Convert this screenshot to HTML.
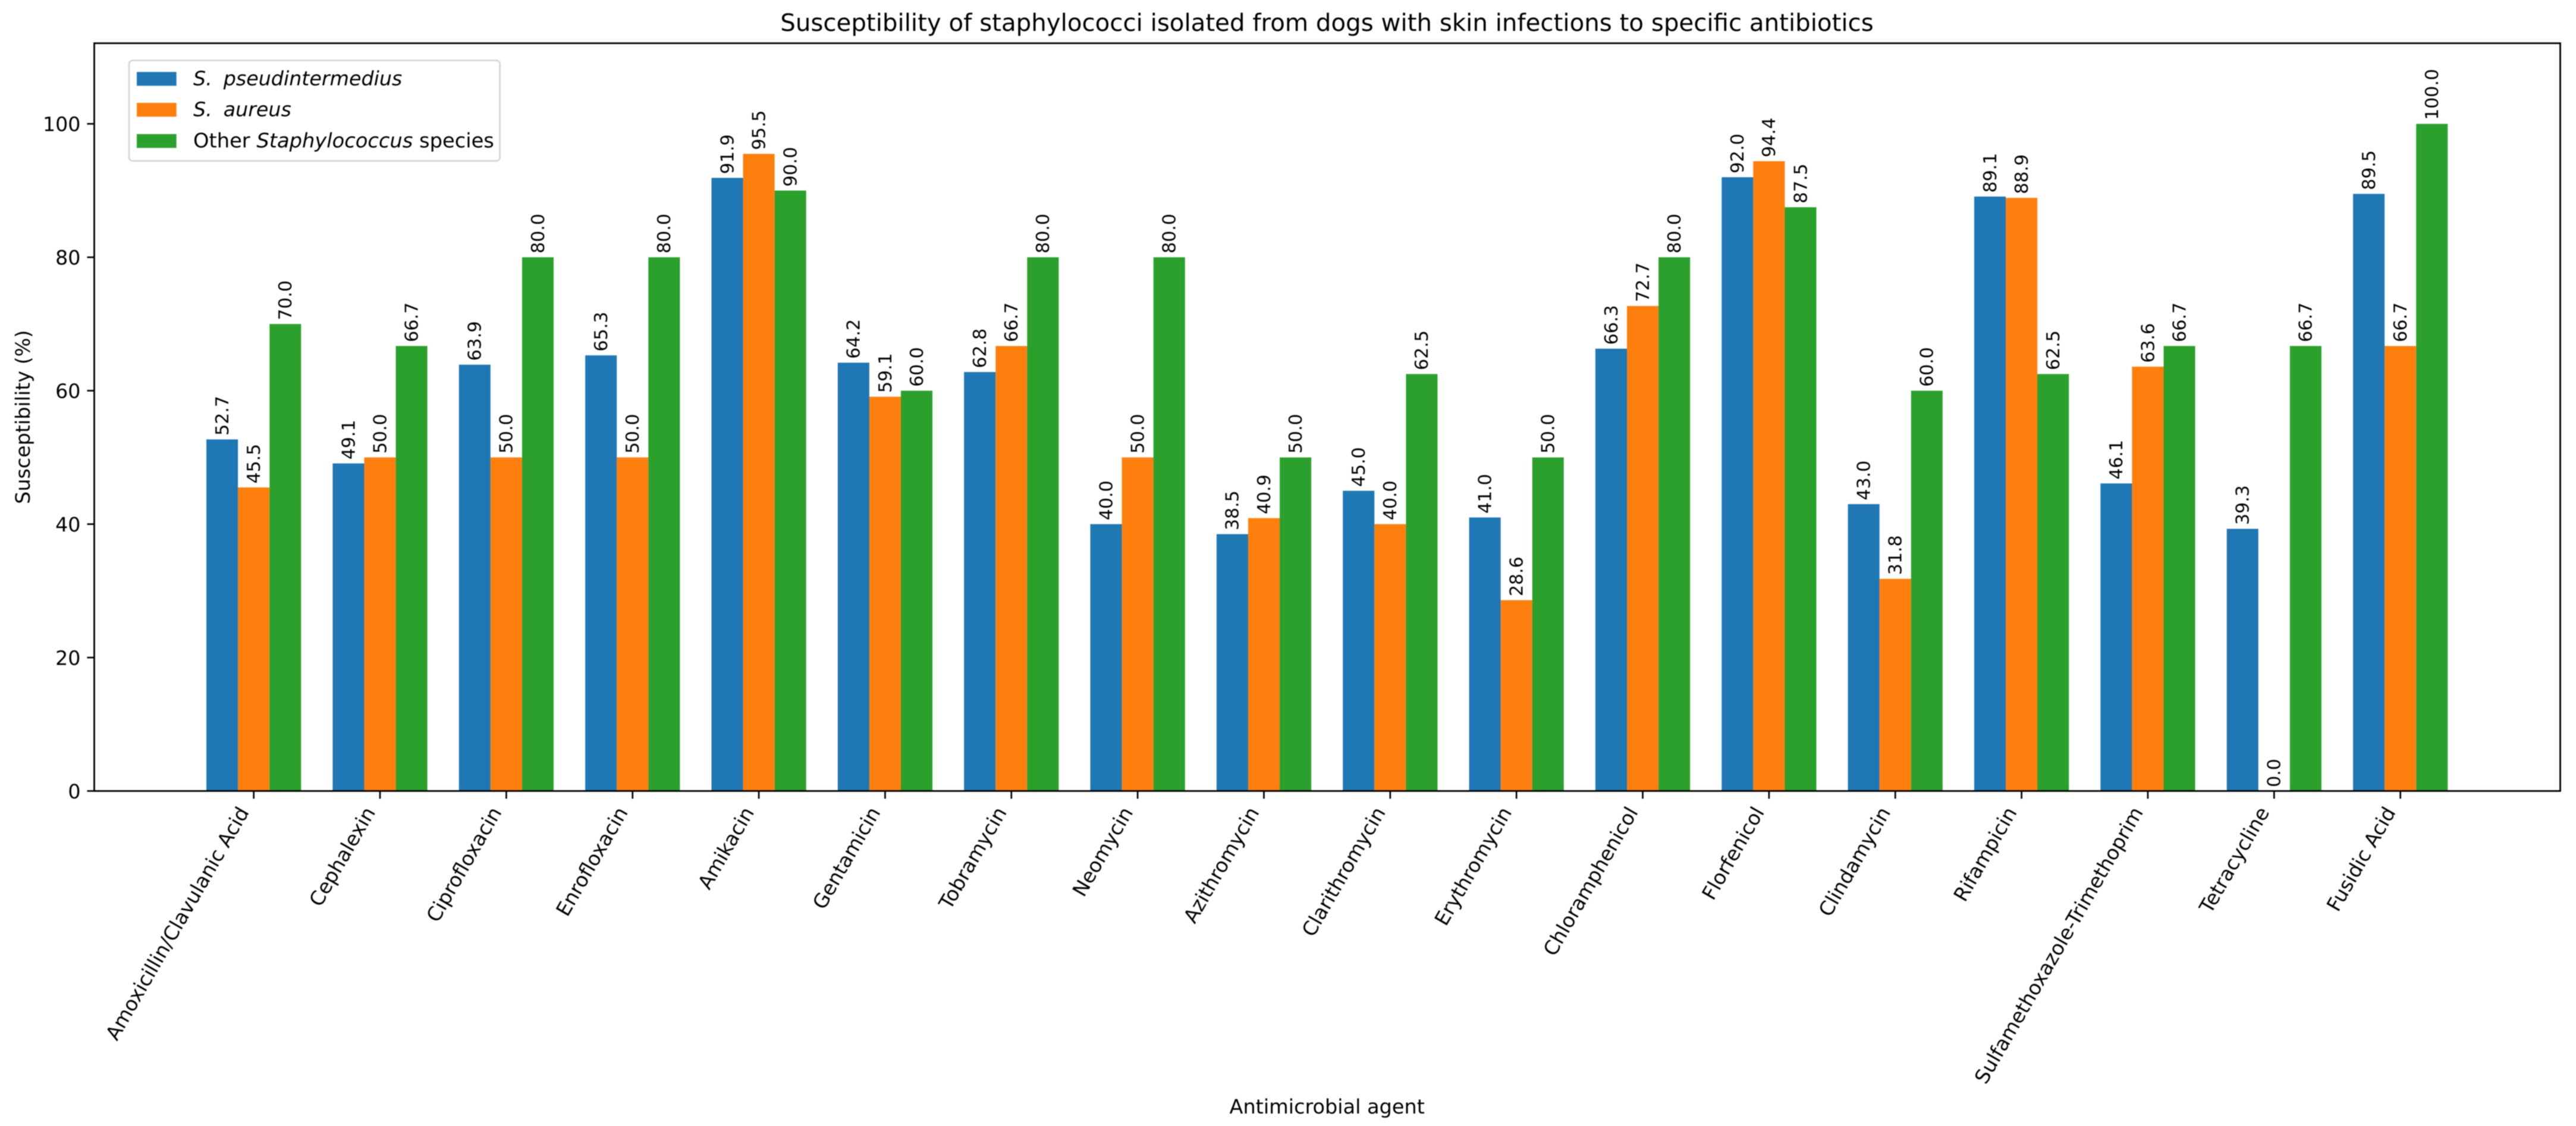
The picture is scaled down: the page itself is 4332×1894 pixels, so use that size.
<!DOCTYPE html>
<html lang="en">
<head>
<meta charset="utf-8">
<title>Susceptibility of staphylococci</title>
<style>
html,body{margin:0;padding:0;background:#fff;width:4332px;height:1894px;overflow:hidden}
svg{display:block;filter:blur(0.8px)}
text{font-family:"DejaVu Sans","Liberation Sans",sans-serif;fill:#000;text-rendering:geometricPrecision}
</style>
</head>
<body>
<svg id="chart" xmlns="http://www.w3.org/2000/svg" width="4332" height="1894" viewBox="0 0 4332 1894">
  <rect x="0" y="0" width="4332" height="1894" fill="#ffffff"/>
  <g id="bars"></g>
  <g id="bar-labels"></g>
  <g id="x-axis"></g>
  <g id="y-axis"></g>
  <rect x="158.5" y="72.7" width="4147" height="1257.8" fill="none" stroke="#000" stroke-width="2.8"/>
  <text x="2231.5" y="52" font-size="40.3" text-anchor="middle">Susceptibility of staphylococci isolated from dogs with skin infections to specific antibiotics</text>
  <text x="2231.7" y="1873" font-size="33.5" text-anchor="middle">Antimicrobial agent</text>
  <text transform="translate(50 701.5) rotate(-90)" font-size="33.4" text-anchor="middle">Susceptibility (%)</text>
  <g>
    <rect x="217" y="101.7" width="623.6" height="169" rx="6" ry="6" fill="#ffffff" stroke="#d6d6d6" stroke-width="2.8"/>
    <rect x="230" y="121" width="66.7" height="23.3" fill="#1f77b4"/>
    <rect x="230" y="173" width="66.7" height="23.3" fill="#ff7f0e"/>
    <rect x="230" y="225.5" width="66.7" height="23.3" fill="#2ca02c"/>
    <text x="325" y="143.5" font-size="33.3" font-style="italic">S.<tspan dx="19">pseudintermedius</tspan></text>
    <text x="325" y="195.5" font-size="33.3" font-style="italic">S.<tspan dx="19">aureus</tspan></text>
    <text x="325" y="248" font-size="33.7">Other <tspan font-style="italic">Staphylococcus</tspan> species</text>
  </g>
</svg>
<script>
const categories = ["Amoxicillin/Clavulanic Acid","Cephalexin","Ciprofloxacin","Enrofloxacin","Amikacin","Gentamicin","Tobramycin","Neomycin","Azithromycin","Clarithromycin","Erythromycin","Chloramphenicol","Florfenicol","Clindamycin","Rifampicin","Sulfamethoxazole-Trimethoprim","Tetracycline","Fusidic Acid"];
const pseudintermedius = [52.7,49.1,63.9,65.3,91.9,64.2,62.8,40.0,38.5,45.0,41.0,66.3,92.0,43.0,89.1,46.1,39.3,89.5];
const aureus = [45.5,50.0,50.0,50.0,95.5,59.1,66.7,50.0,40.9,40.0,28.6,72.7,94.4,31.8,88.9,63.6,0.0,66.7];
const otherStaph = [70.0,66.7,80.0,80.0,90.0,60.0,80.0,80.0,50.0,62.5,50.0,80.0,87.5,60.0,62.5,66.7,66.7,100.0];
const yTicks = [0,20,40,60,80,100];

const NS = "http://www.w3.org/2000/svg";
const seriesList = [
  {key:"pseudintermedius", values:pseudintermedius, color:"#1f77b4", slot:-1},
  {key:"aureus", values:aureus, color:"#ff7f0e", slot:0},
  {key:"other", values:otherStaph, color:"#2ca02c", slot:1}
];
const x0 = 426.7, xStep = 212.35, barWidth = 0.25;
const y0 = 1330.5, yUnit = 11.222;
function xPos(i){ return x0 + i * xStep; }
function yPos(v){ return y0 - v * yUnit; }
function make(tag, parent, attrs){
  const el = document.createElementNS(NS, tag);
  for (const k in attrs) el.setAttribute(k, attrs[k]);
  parent.appendChild(el);
  return el;
}
const barsG = document.getElementById("bars");
const labelsG = document.getElementById("bar-labels");
const xG = document.getElementById("x-axis");
const yG = document.getElementById("y-axis");

seriesList.forEach(function(s){
  s.values.forEach(function(v, i){
    const cx = xPos(i) + s.slot * barWidth * xStep;
    const w = barWidth * xStep;
    const bar = make("rect", barsG, {x:cx - w/2, y:yPos(v), width:w, height:y0 - yPos(v), fill:s.color});
    
    
    const lx = cx + 10.3, ly = yPos(v) - 6.5;
    const label = make("text", labelsG, {transform:"translate(" + lx + " " + ly + ") rotate(-90)", "font-size":30});
    label.textContent = v.toFixed(1);
    
    
  });
});

categories.forEach(function(name, i){
  const tx = xPos(i);
  const tick = make("line", xG, {x1:tx, x2:tx, y1:y0, y2:y0 + 13, stroke:"#000", "stroke-width":2.7});
  
  
  const lx = tx - 7, ly = 1366;
  const label = make("text", xG, {transform:"translate(" + lx + " " + ly + ") rotate(-60)", "font-size":33.4, "text-anchor":"end"});
  label.textContent = name;
  
  
});

yTicks.forEach(function(v){
  const ty = yPos(v);
  const tick = make("line", yG, {x1:146.5, x2:158, y1:ty, y2:ty, stroke:"#000", "stroke-width":2.7});
  
  
  const label = make("text", yG, {x:135.5, y:ty + 12.3, "font-size":33.3, "text-anchor":"end"});
  label.textContent = String(v);
  
  
});
</script>
</body>
</html>
